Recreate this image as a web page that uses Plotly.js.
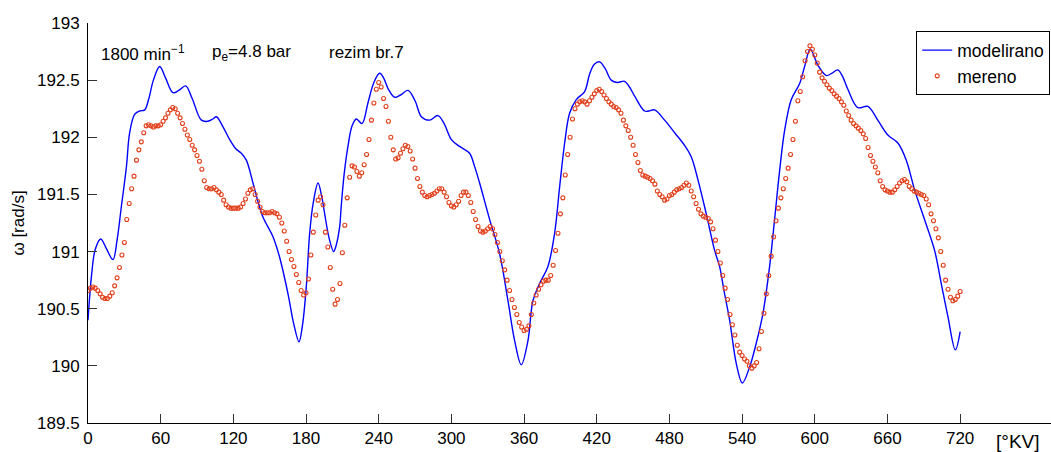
<!DOCTYPE html>
<html>
<head>
<meta charset="utf-8">
<script src="https://cdn.plot.ly/plotly-3.0.1.min.js"></script>
<style>
html,body{margin:0;padding:0;background:#fff;}
#chart{width:1051px;height:452px;}
</style>
</head>
<body>
<div id="chart"></div>
<script>
// Modelled angular speed (blue line)
var modelAngle = [0,3,6,10.5,15,20.6,24,27.5,31.7,34.4,38.5,42.7,46.8,50,54,59.2,64,70.2,75,80.6,86,93.6,99,103,106,111,117,122,126.6,130.7,136.2,140,144.5,152.7,158.2,165.1,170,174.2,177,180.2,183,186,189.9,193,195.4,199,202.8,205,207.8,209,211.5,214.6,218,221.5,226.2,231.1,236,240.8,244,248,253.2,258,264.1,270,275.2,282,288.9,294,300,306.8,315,319,323.3,331.6,339.8,346.7,352.2,357.7,363.2,367.3,372.8,379.7,385.2,389.4,393.5,397.6,403.1,410,414,418,422.4,427,432,437,443,447,451.3,459.5,463,467.8,476,484.3,492.5,498,503.5,510.4,517.3,521.4,525,529.7,535.2,540.2,546.2,551.7,557.2,562.7,566.8,571,575.1,580.6,587.5,591.6,596.3,602.6,609.5,614,619,623,627.3,635.5,643.8,652,660.3,668.6,675.5,682.4,690.6,698.9,704.4,709.9,716,720];
var modelOmega = [190.40,190.80,191.02,191.11,191.03,190.93,191.10,191.39,191.74,192.04,192.20,192.23,192.24,192.33,192.50,192.62,192.52,192.39,192.41,192.45,192.34,192.15,192.14,192.16,192.18,192.10,191.98,191.90,191.86,191.80,191.60,191.45,191.30,191.13,190.95,190.63,190.36,190.21,190.35,190.69,191.16,191.43,191.60,191.48,191.33,191.12,191.00,191.06,191.22,191.39,191.68,191.92,192.10,192.16,192.12,192.30,192.48,192.56,192.52,192.42,192.35,192.37,192.41,192.32,192.18,192.15,192.19,192.12,191.98,191.92,191.86,191.75,191.60,191.28,190.98,190.57,190.22,190.01,190.22,190.57,190.72,190.87,191.16,191.57,191.95,192.21,192.33,192.40,192.55,192.64,192.66,192.60,192.50,192.48,192.49,192.44,192.36,192.23,192.23,192.24,192.15,192.04,191.93,191.83,191.63,191.33,191.01,190.87,190.66,190.40,190.02,189.85,189.99,190.20,190.46,190.87,191.28,191.71,192.06,192.33,192.47,192.62,192.77,192.63,192.54,192.56,192.59,192.53,192.42,192.26,192.27,192.15,192.02,191.95,191.80,191.54,191.28,191.01,190.72,190.43,190.14,190.30];

// Measured angular speed (red markers), one value every 2 degrees from 0 to 720
var measuredStep = 2;
var measuredOmega = [
190.66,190.68,190.69,190.68,190.66,190.63,190.60,190.59,190.59,190.61,
190.64,190.70,190.77,190.86,190.97,191.08,191.28,191.42,191.55,191.66,
191.80,191.89,191.96,192.04,192.10,192.11,192.10,192.09,192.10,192.10,
192.11,192.14,192.17,192.21,192.24,192.26,192.25,192.21,192.17,192.12,
192.07,192.02,191.98,191.93,191.89,191.84,191.79,191.72,191.62,191.56,
191.55,191.55,191.56,191.54,191.52,191.50,191.45,191.41,191.39,191.38,
191.38,191.38,191.38,191.39,191.42,191.46,191.51,191.54,191.55,191.50,
191.44,191.39,191.35,191.34,191.34,191.34,191.35,191.34,191.33,191.30,
191.25,191.18,191.09,191.00,190.93,190.87,190.80,190.73,190.66,190.62,
190.64,190.76,190.97,191.17,191.32,191.45,191.48,191.41,191.17,191.04,
190.86,190.67,190.54,190.58,190.72,190.99,191.23,191.47,191.65,191.75,
191.74,191.70,191.66,191.69,191.76,191.85,191.98,192.15,192.30,192.42,
192.48,192.44,192.34,192.27,192.14,192.00,191.89,191.81,191.82,191.86,
191.90,191.93,191.92,191.88,191.81,191.73,191.64,191.57,191.52,191.49,
191.48,191.49,191.50,191.51,191.53,191.55,191.55,191.52,191.48,191.43,
191.40,191.39,191.41,191.44,191.49,191.52,191.52,191.49,191.43,191.35,
191.28,191.22,191.18,191.17,191.18,191.20,191.22,191.20,191.15,191.08,
191.00,190.92,190.84,190.75,190.66,190.58,190.51,190.45,190.38,190.34,
190.31,190.32,190.35,190.45,190.55,190.62,190.67,190.71,190.74,190.75,
190.75,190.79,190.88,191.01,191.16,191.33,191.47,191.67,191.85,192.00,
192.16,192.25,192.29,192.31,192.32,192.31,192.29,192.32,192.35,192.38,
192.41,192.42,192.40,192.37,192.34,192.31,192.29,192.27,192.26,192.24,
192.21,192.15,192.10,192.06,192.00,191.93,191.85,191.78,191.71,191.67,
191.66,191.65,191.64,191.62,191.59,191.53,191.50,191.48,191.45,191.46,
191.49,191.50,191.52,191.54,191.55,191.56,191.58,191.60,191.58,191.53,
191.48,191.42,191.37,191.33,191.31,191.30,191.29,191.26,191.20,191.10,
191.00,190.90,190.79,190.68,190.58,190.45,190.36,190.27,190.18,190.12,
190.09,190.06,190.04,190.00,189.98,190.00,190.03,190.15,190.30,190.46,
190.63,190.79,190.96,191.13,191.27,191.38,191.47,191.55,191.64,191.73,
191.85,191.98,192.14,192.32,192.40,192.53,192.67,192.75,192.80,192.77,
192.72,192.65,192.57,192.52,192.49,192.46,192.43,192.41,192.38,192.36,
192.34,192.31,192.28,192.23,192.19,192.15,192.12,192.10,192.08,192.06,
192.03,191.99,191.91,191.84,191.79,191.74,191.69,191.62,191.57,191.54,
191.53,191.52,191.52,191.54,191.57,191.60,191.62,191.63,191.61,191.57,
191.55,191.53,191.52,191.51,191.50,191.49,191.46,191.41,191.33,191.27,
191.20,191.12,191.00,190.88,190.75,190.67,190.60,190.57,190.58,190.61,
190.65];
var measuredAngle = measuredOmega.map(function(_, i){ return i * measuredStep; });

var xTicks = [0,60,120,180,240,300,360,420,480,540,600,660,720];
var seriesNames = ['modelirano', 'mereno'];
var infoTexts = ['1800 min<sup>\u22121</sup>', 'p<sub>e</sub>=4.8 bar', 'rezim br.7'];
var infoAngles = [8.8, 100.5, 197];
var xUnit = '[\u00b0KV]';
var yTitle = '\u03c9 [rad/s]';

var FONT = 'Liberation Sans, Arial, Helvetica, sans-serif';

var traces = [
  {
    x: modelAngle, y: modelOmega, name: seriesNames[0],
    type: 'scatter', mode: 'lines',
    line: {color: '#0000ff', width: 1.4, shape: 'spline', smoothing: 1.0}
  },
  {
    x: measuredAngle, y: measuredOmega, name: seriesNames[1],
    type: 'scatter', mode: 'markers',
    marker: {symbol: 'circle-open', size: 4, color: '#e2401c', line: {width: 1.1, color: '#e2401c'}}
  }
];

var annotations = infoTexts.map(function(t, i){
  return {x: infoAngles[i], y: 192.74, xref: 'x', yref: 'y', text: t, showarrow: false,
          xanchor: 'left', yanchor: 'middle', font: {family: FONT, size: 17, color: '#000'}};
});
annotations.push({x: 767.5, y: 0, xref: 'x', yref: 'paper', text: xUnit, showarrow: false,
  xanchor: 'center', yanchor: 'top', yshift: -6, font: {family: FONT, size: 19, color: '#000'}});

var layout = {
  width: 1051, height: 452,
  margin: {l: 88, r: 0, t: 23, b: 29, pad: 0},
  paper_bgcolor: '#fff', plot_bgcolor: '#fff',
  font: {family: FONT, size: 17, color: '#000'},
  showlegend: true,
  legend: {x: 0.999, xanchor: 'right', y: 0.98, yanchor: 'top',
           bgcolor: '#fff', bordercolor: '#000', borderwidth: 1.2,
           itemwidth: 30,
           font: {family: FONT, size: 17.5, color: '#000'}, tracegroupgap: 0},
  xaxis: {range: [0, 795], tickvals: xTicks, ticktext: xTicks.map(String),
          showline: true, linecolor: '#000', linewidth: 1, ticks: 'inside', ticklen: 9,
          tickcolor: '#333', tickwidth: 1, showgrid: false, zeroline: false,
          tickfont: {family: FONT, size: 17, color: '#000'}},
  yaxis: {range: [189.5, 193], dtick: 0.5, tick0: 189.5,
          showline: true, linecolor: '#000', linewidth: 1, ticks: 'inside', ticklen: 9,
          tickcolor: '#333', tickwidth: 1, showgrid: false, zeroline: false,
          ticklabelstandoff: 4,
          tickfont: {family: FONT, size: 17, color: '#000'},
          title: {text: yTitle, font: {family: FONT, size: 17, color: '#000'}, standoff: 8}},
  annotations: annotations
};

Plotly.newPlot('chart', traces, layout, {staticPlot: true, displayModeBar: false});
</script>
</body>
</html>
